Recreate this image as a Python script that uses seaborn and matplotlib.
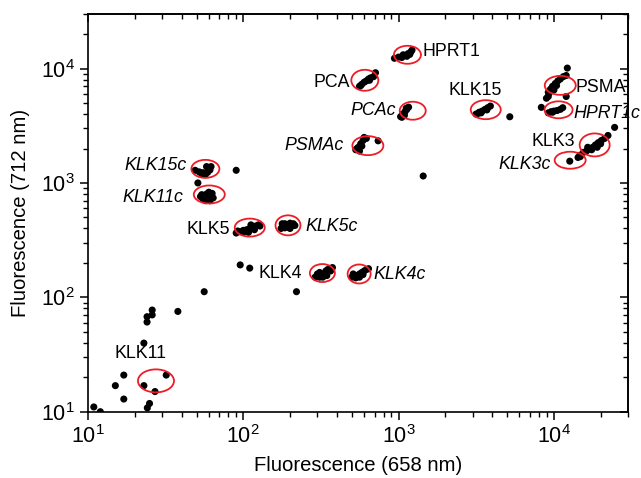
import numpy as np
import pandas as pd
import matplotlib
matplotlib.use("Agg")
import matplotlib.pyplot as plt
import matplotlib.transforms as mtransforms
from matplotlib.patches import Ellipse
from matplotlib.ticker import NullFormatter
import seaborn as sns

# ---------------- data ----------------
# scattered single points (658 nm, 712 nm)
other_x = [10.9, 12, 15, 17, 17, 22.9, 24.1, 24.9, 27, 31.9, 22.9, 24, 24, 25.9, 25.9,
           37.9, 56, 95.5, 110, 220, 51, 90, 1440, 5200, 24600]
other_y = [11, 10, 16.9, 20.9, 12.9, 16.9, 10.8, 11.8, 15, 20.9, 39.8, 60.8, 67.7, 70.2, 77.4,
           75.3, 112, 192, 180, 112, 1000, 1290, 1150, 3790, 3060]

klk15c_x = [49, 52, 54, 57, 59, 60, 62, 61, 58, 55]
klk15c_y = [1290, 1250, 1200, 1180, 1240, 1330, 1390, 1300, 1390, 1230]
klk11c_x = [53, 55, 57, 58, 60, 62, 64, 61, 56, 59, 63, 54]
klk11c_y = [760, 720, 700, 800, 830, 780, 740, 700, 760, 750, 810, 790]
klk5_x = [90, 95, 100, 105, 110, 115, 120, 125, 128, 118, 108, 100, 112, 92]
klk5_y = [365, 375, 385, 390, 400, 410, 420, 430, 420, 390, 370, 370, 430, 380]
klk5c_x = [175, 180, 185, 190, 195, 200, 205, 210, 200, 185, 215, 178]
klk5c_y = [400, 425, 440, 430, 410, 400, 420, 440, 445, 405, 425, 440]
klk4_x = [290, 300, 310, 320, 330, 340, 350, 360, 310, 325, 345, 365, 375]
klk4_y = [150, 160, 165, 158, 160, 170, 175, 178, 150, 150, 155, 170, 182]
klk4c_x = [500, 520, 540, 560, 580, 600, 620, 640, 560, 590, 530, 510]
klk4c_y = [150, 152, 155, 160, 165, 170, 175, 178, 150, 158, 148, 160]
hprt1_x = [940, 1000, 1050, 1100, 1150, 1200, 1220, 1130, 1180, 1070]
hprt1_y = [12300, 12600, 12500, 13000, 13500, 14000, 14500, 12800, 13300, 13200]
pca_x = [560, 580, 600, 620, 640, 660, 690, 710, 570, 650]
pca_y = [7000, 7300, 7600, 7800, 8100, 8300, 8500, 9200, 7100, 7900]
pcac_x = [1030, 1060, 1100, 1130, 1160, 1090, 1050, 1120]
pcac_y = [3800, 4000, 4200, 4400, 4600, 3900, 3750, 4500]
klk15_x = [3150, 3300, 3450, 3600, 3750, 3900, 3400, 3700, 3250]
klk15_y = [4000, 4150, 4250, 4400, 4550, 4700, 4100, 4350, 4050]
psmac_x = [530, 550, 570, 590, 600, 560, 620, 580, 738, 540]
psmac_y = [1950, 2050, 2200, 2350, 2500, 1900, 2450, 2100, 2335, 2000]
psma_x = [9200, 9500, 9800, 10200, 10600, 11000, 11500, 12000, 8950, 9200, 12000,
          12200, 9300, 10000, 10400]
psma_y = [6200, 6600, 7000, 7400, 7800, 8100, 8500, 8700, 5500, 5700, 5700,
          10100, 6080, 6500, 7100]
hprt1c_x = [9200, 9600, 10000, 10500, 11000, 11400, 8300, 9800]
hprt1c_y = [4100, 4200, 4250, 4300, 4400, 4550, 4580, 4150]
klk3_x = [14700, 15500, 16200, 17000, 17800, 18500, 19300, 20200, 21200, 22300,
          16500, 19000, 17500, 20000]
klk3_y = [1750, 1850, 1900, 1980, 2050, 2150, 2250, 2350, 2450, 2600,
          2050, 2050, 1950, 2200]
klk3c_x = [12650, 14300, 14800]
klk3c_y = [1550, 1670, 1700]

# ellipse (circled group) centres and labels
ell_names = ["KLK11", "KLK15c", "KLK11c", "KLK5", "KLK5c", "KLK4", "KLK4c", "HPRT1",
             "PCA", "PCAc", "KLK15", "PSMAc", "PSMA", "HPRT1c", "KLK3", "KLK3c"]
ell_x = [27.4, 57, 60.4, 110, 194, 323, 557, 1140, 606, 1233, 3640, 634, 10990, 10720, 18300, 12730]
ell_y = [18.6, 1328, 793, 407, 426, 163, 160, 13200, 7900, 4280, 4370, 2119, 7130, 4360, 2150, 1580]

# label text anchors
lab_text = ["KLK11", "KLK15c", "KLK11c", "KLK5", "KLK5c", "KLK4", "KLK4c", "HPRT1",
            "PCA", "PCAc", "KLK15", "PSMAc", "PSMA", "HPRT1c", "KLK3", "KLK3c"]
lab_x = [21.9, 43.2, 41, 82, 253, 238, 686, 1416, 485, 960, 3135, 440, 13800, 13400, 13600, 9510]
lab_y = [32.1, 1430, 750, 393, 420, 160, 158, 14000, 7500, 4260, 6370, 2143, 6840, 4080, 2320, 1460]

# ---------------- styles ----------------
ell_size = {"KLK11": (36, 23), "KLK15c": (28, 18), "KLK11c": (31, 18), "KLK5": (30, 18),
            "KLK5c": (25, 20), "KLK4": (25, 18), "KLK4c": (23, 19), "HPRT1": (27, 18),
            "PCA": (27, 21), "PCAc": (26, 18), "KLK15": (30, 19), "PSMAc": (31, 19),
            "PSMA": (31, 19), "HPRT1c": (28, 17), "KLK3": (30, 23), "KLK3c": (31, 17)}
lab_ha = {"KLK11": "center", "KLK15c": "right", "KLK11c": "right", "KLK5": "right",
          "KLK5c": "left", "KLK4": "right", "KLK4c": "left", "HPRT1": "left",
          "PCA": "right", "PCAc": "right", "KLK15": "center", "PSMAc": "right",
          "PSMA": "left", "HPRT1c": "left", "KLK3": "right", "KLK3c": "right"}

# ---------------- build frame ----------------
groups = [(other_x, other_y), (klk15c_x, klk15c_y), (klk11c_x, klk11c_y), (klk5_x, klk5_y),
          (klk5c_x, klk5c_y), (klk4_x, klk4_y), (klk4c_x, klk4c_y), (hprt1_x, hprt1_y),
          (pca_x, pca_y), (pcac_x, pcac_y), (klk15_x, klk15_y), (psmac_x, psmac_y),
          (psma_x, psma_y), (hprt1c_x, hprt1c_y), (klk3_x, klk3_y), (klk3c_x, klk3c_y)]
xs, ys = [], []
for gx, gy in groups:
    xs += list(gx)
    ys += list(gy)
df = pd.DataFrame({"x": xs, "y": ys})

sns.set_style("ticks", {"axes.edgecolor": "black", "text.color": "black",
                        "axes.labelcolor": "black", "xtick.color": "black",
                        "ytick.color": "black"})
plt.rcParams["font.family"] = ["Liberation Sans", "DejaVu Sans"]
plt.rcParams["mathtext.fontset"] = "custom"
plt.rcParams["mathtext.rm"] = "Liberation Sans"
plt.rcParams["mathtext.it"] = "Liberation Sans:italic"

DPI = 100
fig = plt.figure(figsize=(6.41, 4.78), dpi=DPI)
ax = fig.add_axes([88 / 641, 1 - 411.7 / 478, (628 - 88) / 641, (411.7 - 14) / 478])

sns.scatterplot(data=df, x="x", y="y", color="black", s=26, edgecolor="none",
                linewidth=0, ax=ax, legend=False, zorder=3)
ax.set_xscale("log")
ax.set_yscale("log")
ax.set_xlim(10, 30000)
ax.set_ylim(10, 30000)
ax.set_autoscale_on(False)

for name, cx, cy in zip(ell_names, ell_x, ell_y):
    w, h = ell_size[name]
    trans = fig.dpi_scale_trans + mtransforms.ScaledTranslation(cx, cy, ax.transData)
    e = Ellipse((0, 0), w / DPI, h / DPI, transform=trans, fill=False,
                edgecolor="#ee1c25", linewidth=1.3, zorder=4, clip_on=False)
    ax.add_artist(e)

for t, lx, ly in zip(lab_text, lab_x, lab_y):
    style = "italic" if t.endswith("c") else "normal"
    ax.text(lx, ly, t, ha=lab_ha[t], va="center", fontsize=12.8, fontstyle=style,
            color="black", clip_on=False, zorder=5)

ax.set_xlabel("Fluorescence (658 nm)", fontsize=14.6, labelpad=6)
ax.set_ylabel("Fluorescence (712 nm)", fontsize=14.6, labelpad=8)

for sp in ax.spines.values():
    sp.set_linewidth(1.2)
    sp.set_visible(True)
    sp.set_color("black")
ax.tick_params(which="major", direction="out", length=6, width=1.1, labelsize=15.5)
ax.tick_params(which="minor", direction="out", length=3.5, width=1.0)

secx = ax.secondary_xaxis("top")
secx.tick_params(which="major", direction="in", length=6, width=1.1)
secx.tick_params(which="minor", direction="in", length=3.5, width=1.0)
secx.xaxis.set_major_formatter(NullFormatter())
secx.xaxis.set_minor_formatter(NullFormatter())
secx.spines["top"].set_linewidth(1.2)
secy = ax.secondary_yaxis("right")
secy.tick_params(which="major", direction="in", length=6, width=1.1)
secy.tick_params(which="minor", direction="in", length=3.5, width=1.0)
secy.yaxis.set_major_formatter(NullFormatter())
secy.yaxis.set_minor_formatter(NullFormatter())
secy.spines["right"].set_linewidth(1.2)

fig.savefig("out.png", dpi=DPI, facecolor="white")
